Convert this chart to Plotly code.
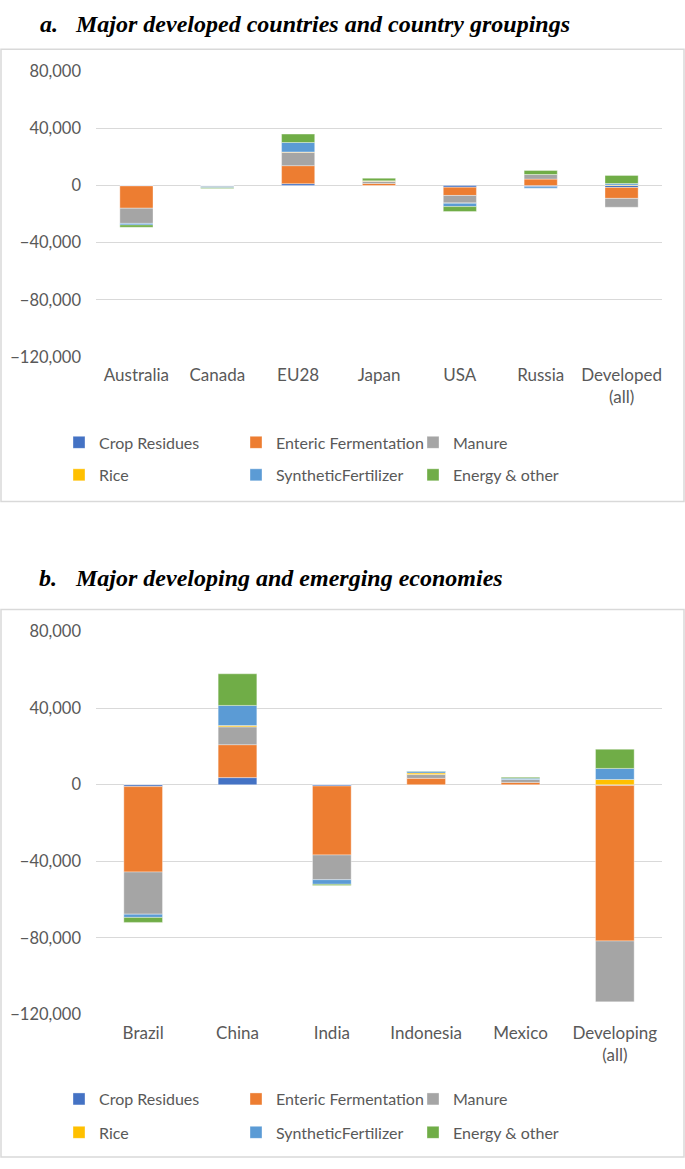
import plotly.graph_objects as go

W, H = 685, 1169

series = ["Crop Residues", "Enteric Fermentation", "Manure", "Rice", "SyntheticFertilizer", "Energy & other"]
colors = ["#4472C4", "#ED7D31", "#A5A5A5", "#FFC000", "#5B9BD5", "#70AD47"]

cats_a = ["Australia", "Canada", "EU28", "Japan", "USA", "Russia", "Developed<br>(all)"]
crop_a     = [-300,   -300,  1300,    0, -1200,  -800, -1400]
enteric_a  = [-15600,    0, 12600, 1400, -5750,  4500, -7600]
manure_a   = [-10600, -600,  9400, 1600, -5300,  3200, -6200]
rice_a     = [0,         0,   200,  300,  -200,     0,   400]
synth_a    = [-1100,  -600,  6600,    0, -2300, -1100,  1000]
energy_a   = [-1600,  -500,  5900, 1800, -3450,  2800,  5700]

cats_b = ["Brazil", "China", "India", "Indonesia", "Mexico", "Developing<br>(all)"]
crop_b     = [-1000,   3700,   -700,    0,    0,   -400]
enteric_b  = [-44600, 17200, -36000, 3300, 1200, -81200]
manure_b   = [-22000,  9300, -12900, 2000, 1500, -31800]
rice_b     = [0,        700,      0,  800,    0,   2700]
synth_b    = [-1700,  10500,  -2400,  900,  700,   5800]
energy_b   = [-2600,  16500,   -700,  200,  500,  10000]

yticks = [-120000, -80000, -40000, 0, 40000, 80000]

vals_a = [crop_a, enteric_a, manure_a, rice_a, synth_a, energy_a]
vals_b = [crop_b, enteric_b, manure_b, rice_b, synth_b, energy_b]


def py(p):
    return 1 - p / H


def px(p):
    return p / W


GRAY = "#595959"
FONT = "Lato"

fig = go.Figure()
for i, (name, col) in enumerate(zip(series, colors)):
    lg_a = "legend" if i < 3 else "legend2"
    lg_b = "legend3" if i < 3 else "legend4"
    fig.add_trace(go.Bar(x=cats_a, y=vals_a[i], name=name, marker_color=col,
                         marker_line=dict(color="rgba(255,255,255,0.6)", width=0.6),
                         xaxis="x", yaxis="y", legend=lg_a))
    fig.add_trace(go.Bar(x=cats_b, y=vals_b[i], name=name, marker_color=col,
                         marker_line=dict(color="rgba(255,255,255,0.6)", width=0.6),
                         xaxis="x2", yaxis="y2", legend=lg_b))

xdom = [px(96), px(662)]
common_y = dict(range=[-120000, 80000], tickvals=yticks, tickformat=",",
                showgrid=True, gridcolor="#d9d9d9", gridwidth=1.3, zeroline=False,
                showline=False, ticks="", ticklabelstandoff=14,
                tickfont=dict(family=FONT, size=16.5, color=GRAY))
common_x = dict(type="category", showgrid=False, zeroline=False, showline=False,
                ticks="", ticklabelstandoff=6,
                tickfont=dict(family=FONT, size=17, color=GRAY))

leg_common = dict(orientation="h", xanchor="left", yanchor="middle",
                  entrywidth=132, entrywidthmode="pixels",
                  font=dict(family=FONT, size=16, color=GRAY),
                  bgcolor="rgba(0,0,0,0)", itemclick=False, itemdoubleclick=False,
                  traceorder="normal")

fig.update_layout(
    width=W, height=H, autosize=False,
    margin=dict(l=0, r=0, t=0, b=0),
    paper_bgcolor="white", plot_bgcolor="white",
    barmode="relative", bargap=0.59,
    font=dict(family=FONT, color=GRAY),
    xaxis=dict(domain=xdom, anchor="y", **common_x),
    yaxis=dict(domain=[py(353), py(62.3)], anchor="x", **common_y),
    xaxis2=dict(domain=xdom, anchor="y2", **common_x),
    yaxis2=dict(domain=[py(1022), py(632.3)], anchor="x2", **common_y),
    legend=dict(x=px(59), y=py(440), **leg_common),
    legend2=dict(x=px(59), y=py(473), **leg_common),
    legend3=dict(x=px(59), y=py(1108), **leg_common),
    legend4=dict(x=px(59), y=py(1142), **leg_common),
    shapes=[
        dict(type="rect", xref="paper", yref="paper", x0=px(1), x1=px(684), y0=py(500), y1=py(40),
             line=dict(color="#d9d9d9", width=1.5), layer="below"),
        dict(type="rect", xref="paper", yref="paper", x0=px(1), x1=px(684), y0=py(1167), y1=py(610),
             line=dict(color="#d9d9d9", width=1.5), layer="below"),
    ],
    annotations=[
        dict(text="<b><i>a.</i></b>", x=px(38), y=py(14), xref="paper", yref="paper",
             xanchor="left", yanchor="middle", showarrow=False,
             font=dict(family="Liberation Serif", size=24, color="black")),
        dict(text="<b><i>Major developed countries and country groupings</i></b>", x=px(73), y=py(14),
             xref="paper", yref="paper", xanchor="left", yanchor="middle", showarrow=False,
             font=dict(family="Liberation Serif", size=24, color="black")),
        dict(text="<b><i>b.</i></b>", x=px(37), y=py(578), xref="paper", yref="paper",
             xanchor="left", yanchor="middle", showarrow=False,
             font=dict(family="Liberation Serif", size=24, color="black")),
        dict(text="<b><i>Major developing and emerging economies</i></b>", x=px(73), y=py(578),
             xref="paper", yref="paper", xanchor="left", yanchor="middle", showarrow=False,
             font=dict(family="Liberation Serif", size=24, color="black")),
    ],
)

fig.write_html("out.html", config={"displayModeBar": False},
               post_script="document.body.style.margin='0';document.body.style.overflow='hidden';")
